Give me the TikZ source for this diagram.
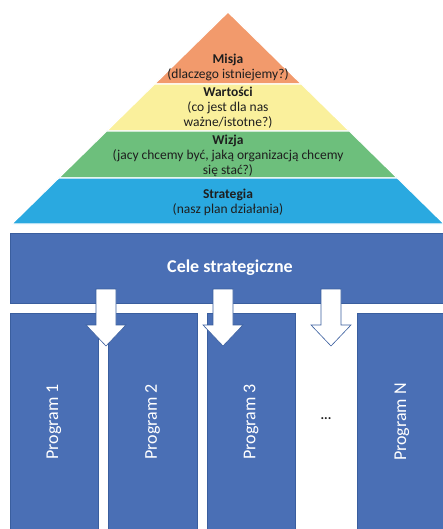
\documentclass[tikz,border=0pt]{standalone}
\usepackage{fontspec}
\setmainfont{Carlito}
\usepackage{xcolor}
\usepackage{tikz}
\usetikzlibrary{positioning}
\definecolor{misja}{HTML}{F29A6C}
\definecolor{wartosci}{HTML}{FAF09C}
\definecolor{wizja}{HTML}{6DBF7C}
\definecolor{strategia}{HTML}{2AA9E0}
\definecolor{niebieski}{HTML}{4A6FB5}
\definecolor{obrys}{HTML}{3A5E9E}
\definecolor{tekst}{HTML}{1E1E1E}
\tikzset{
  warstwa/.style={draw=white, line width=1.2pt},
  etykieta/.style={font=\fontsize{13.5}{15}\selectfont, text=tekst, align=center, inner sep=0pt},
  blok/.style={rectangle, draw=obrys, line width=0.6pt, fill=niebieski, text=white,
    font=\fontsize{18}{21}\selectfont, inner sep=0pt},
  kolumna/.style={blok, rotate=90},
  strzalka/.style={draw=obrys, line width=0.6pt, fill=white, line join=miter},
}

\begin{document}
\begin{tikzpicture}[x=1pt, y=-1pt]
    \useasboundingbox (0,0) rectangle (442,529);
    % Piramida
    \foreach \ya/\yb/\kol in {12/84/misja, 84/131/wartosci, 131/178/wizja, 178/224/strategia} {
      \filldraw[warstwa, fill=\kol] ({228-(\ya-12)*1.02},\ya) -- ({228+(\ya-12)*1.02},\ya)
        -- ({228+(\yb-12)*1.02},\yb) -- ({228-(\yb-12)*1.02},\yb) -- cycle;
    }
    \node[etykieta] (misjaopis) at (228,67.5) {\textbf{Misja}\\(dlaczego istniejemy?)};
    \node[etykieta] (wartosciopis) at (228,108) {\textbf{Wartości}\\(co jest dla nas\\ważne/istotne?)};
    \node[etykieta] (wizjaopis) at (228,155.5) {\textbf{Wizja}\\(jacy chcemy być, jaką organizacją chcemy\\się stać?)};
    \node[etykieta] (strategiaopis) at (228,202) {\textbf{Strategia}\\(nasz plan działania)};

    % Cele i programy
    \node[blok, minimum width=440pt, minimum height=70pt] (cele) at (230,268) {\textbf{Cele strategiczne}};
    \foreach \x/\w/\nr in {54/88/1, 152.5/89/2, 251/88/3, 402/90/N} {
      \node[kolumna, minimum width=218pt, minimum height=\w pt] (p\nr) at (\x,422) {Program \nr};
    }
    \node[etykieta] (kropki) at (326,419) {\textbf{...}};

    % Strzalki
    \foreach \x in {106, 223, 331} {
      \filldraw[strzalka] ({\x-10},289) -- ({\x+10},289) -- ({\x+10},325) -- ({\x+20},325)
        -- (\x,346) -- ({\x-20},325) -- ({\x-10},325) -- cycle;
    }
\end{tikzpicture}
\end{document}
